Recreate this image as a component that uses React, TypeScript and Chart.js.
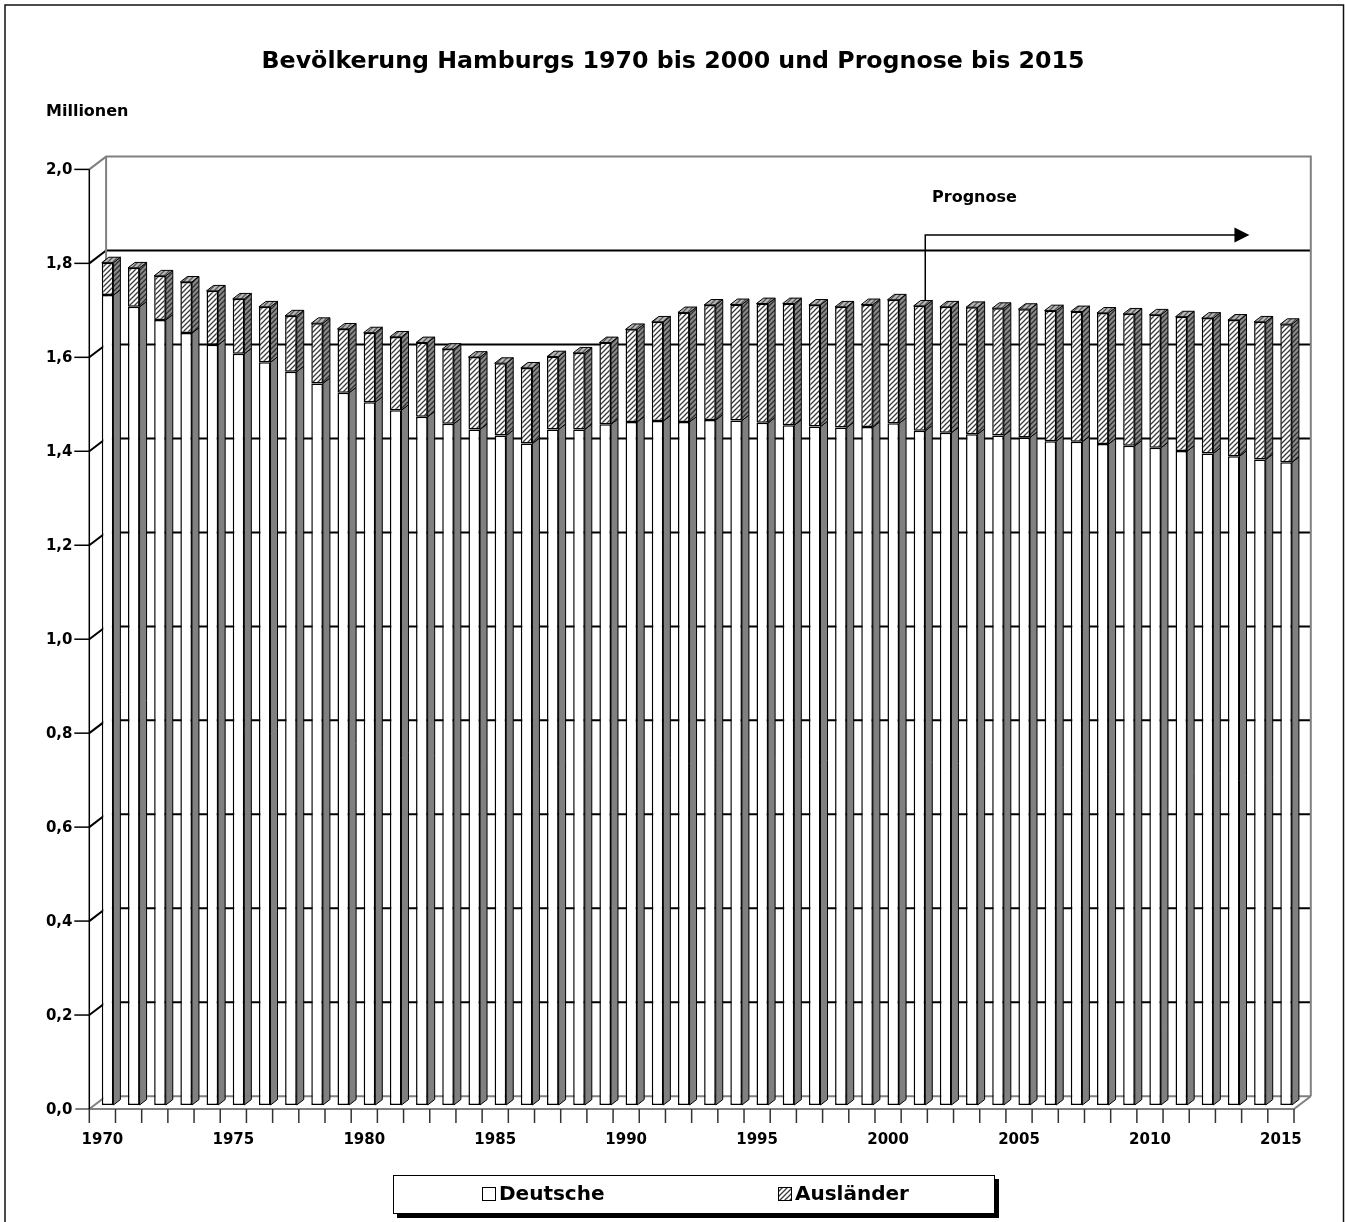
import { useEffect, useRef } from 'react';
import { Chart, registerables } from 'chart.js';

Chart.register(...registerables);

// Jahre (Kategorien)
const years = [
  '1970', '1971', '1972', '1973', '1974', '1975', '1976', '1977', '1978', '1979',
  '1980', '1981', '1982', '1983', '1984', '1985', '1986', '1987', '1988', '1989',
  '1990', '1991', '1992', '1993', '1994', '1995', '1996', '1997', '1998', '1999',
  '2000', '2001', '2002', '2003', '2004', '2005', '2006', '2007', '2008', '2009',
  '2010', '2011', '2012', '2013', '2014', '2015',
];

// Deutsche Bevölkerung in Millionen
const deutsche = [
  1.724, 1.699, 1.671, 1.643, 1.618, 1.599, 1.581, 1.561, 1.536, 1.516,
  1.496, 1.479, 1.465, 1.450, 1.438, 1.425, 1.408, 1.438, 1.438, 1.449,
  1.454, 1.456, 1.454, 1.458, 1.457, 1.452, 1.447, 1.444, 1.442, 1.443,
  1.451, 1.435, 1.431, 1.428, 1.425, 1.421, 1.413, 1.412, 1.407, 1.403,
  1.399, 1.392, 1.387, 1.381, 1.374, 1.368,
];

// Ausländische Bevölkerung in Millionen
const auslaender = [
  0.069, 0.083, 0.094, 0.109, 0.115, 0.117, 0.118, 0.119, 0.128, 0.136,
  0.148, 0.156, 0.158, 0.159, 0.154, 0.154, 0.161, 0.155, 0.163, 0.174,
  0.197, 0.211, 0.233, 0.245, 0.247, 0.254, 0.259, 0.259, 0.257, 0.261,
  0.263, 0.266, 0.268, 0.270, 0.271, 0.273, 0.278, 0.277, 0.279, 0.281,
  0.283, 0.286, 0.288, 0.290, 0.293, 0.294,
];

const seriesLabels = ['Deutsche', 'Ausländer'];
const Y_MAX = 2.0;
const Y_STEP = 0.2;

// Prognose-Pfeil: beginnt am ersten Prognosejahr, endet kurz vor 2015
const ARROW_FROM_INDEX = 31;
const ARROW_TO_INDEX = 43.6;
const ARROW_LEVEL = 1.852;
const PROGNOSE_LABEL_INDEX = 33.1;
const PROGNOSE_LABEL_LEVEL = 1.93;

const FONT = "'DejaVu Sans', 'Liberation Sans', sans-serif";

// Perspektive: Vorderkante, Rückwand und Säulentiefe relativ zur Säulenebene
const FRONT = { x: -5.2, y: 4 };
const BACK = { x: 11.6, y: -8.8 };
const BAR_DEPTH = { x: 7, y: -5.4 };

function makeHatch(ctx: CanvasRenderingContext2D, bg: string, fg: string, p = 5, lw = 1.3) {
  const c = document.createElement('canvas');
  c.width = p;
  c.height = p;
  const g = c.getContext('2d')!;
  g.fillStyle = bg;
  g.fillRect(0, 0, p, p);
  g.strokeStyle = fg;
  g.lineWidth = lw;
  g.beginPath();
  for (const k of [-p, 0, p]) {
    g.moveTo(k - 1, p + 1);
    g.lineTo(k + p + 1, -1);
  }
  g.stroke();
  return ctx.createPattern(c, 'repeat')!;
}

export default function App() {
  const canvasRef = useRef<HTMLCanvasElement | null>(null);

  useEffect(() => {
    const canvas = canvasRef.current!;
    const ctx0 = canvas.getContext('2d')!;
    const hatchFront = makeHatch(ctx0, '#ffffff', '#3a3a3a');
    const hatchSide = makeHatch(ctx0, '#8a8a8a', '#2e2e2e');
    const hatchTop = makeHatch(ctx0, '#b8b8b8', '#555555');

    const line = (ctx: CanvasRenderingContext2D, pts: number[][], color: string, w: number) => {
      ctx.beginPath();
      ctx.moveTo(pts[0][0], pts[0][1]);
      for (let i = 1; i < pts.length; i++) ctx.lineTo(pts[i][0], pts[i][1]);
      ctx.strokeStyle = color;
      ctx.lineWidth = w;
      ctx.stroke();
    };

    const poly = (ctx: CanvasRenderingContext2D, pts: number[][], fill: string | CanvasPattern) => {
      ctx.beginPath();
      ctx.moveTo(pts[0][0], pts[0][1]);
      for (let i = 1; i < pts.length; i++) ctx.lineTo(pts[i][0], pts[i][1]);
      ctx.closePath();
      ctx.fillStyle = fill;
      ctx.fill();
      ctx.strokeStyle = '#000';
      ctx.lineWidth = 1;
      ctx.stroke();
    };

    const depthPlugin = {
      id: 'depth3d',
      beforeDraw(chart: any) {
        const ctx = chart.ctx;
        ctx.save();
        ctx.fillStyle = '#fff';
        ctx.fillRect(0, 0, chart.width, chart.height);
        ctx.restore();
      },
      beforeDatasetsDraw(chart: any) {
        const ctx: CanvasRenderingContext2D = chart.ctx;
        const { left, right } = chart.chartArea;
        const ys = chart.scales.y;
        const xs = chart.scales.x;
        const yv = (v: number) => ys.getPixelForValue(v);
        const fL = left + FRONT.x;
        const fR = right + FRONT.x;
        const bL = left + BACK.x;
        const bR = right + BACK.x;
        const yTop = yv(Y_MAX);
        const y0 = yv(0);
        ctx.save();
        ctx.lineCap = 'butt';

        // Gitternetz auf Seiten- und Rückwand
        const values: number[] = ys.ticks.map((t: any) => t.value);
        for (const v of values) {
          if (v <= 0 || v >= Y_MAX) continue;
          const y = yv(v);
          line(ctx, [[fL, y + FRONT.y], [bL, y + BACK.y], [bR, y + BACK.y]], '#000', 2);
        }

        // Wandkanten und Boden
        const gray = '#808080';
        line(ctx, [[fL, yTop + FRONT.y], [bL, yTop + BACK.y], [bR, yTop + BACK.y], [bR, y0 + BACK.y]], gray, 2);
        line(ctx, [[bL, yTop + BACK.y], [bL, y0 + BACK.y]], gray, 2);
        line(ctx, [[fL, y0 + FRONT.y], [bL, y0 + BACK.y], [bR, y0 + BACK.y]], gray, 2);
        line(ctx, [[fL - 14, y0 + FRONT.y], [fR, y0 + FRONT.y], [bR, y0 + BACK.y]], gray, 2);

        // Vordere Größenachse mit Teilstrichen
        line(ctx, [[fL, yTop + FRONT.y], [fL, y0 + FRONT.y]], '#000', 1.5);
        for (const v of values) {
          if (v <= 0) continue;
          const y = yv(v) + FRONT.y;
          line(ctx, [[fL - 15, y], [fL, y]], '#000', 1.5);
        }

        // Teilstriche der Rubrikenachse
        const n = chart.data.labels.length;
        const cw = (xs.right - xs.left) / n;
        for (let k = 0; k <= n; k++) {
          const x = xs.left + FRONT.x + k * cw;
          line(ctx, [[x, y0 + FRONT.y], [x, y0 + FRONT.y + 14]], '#333', 1.5);
        }
        ctx.restore();
      },
      afterDatasetsDraw(chart: any) {
        const ctx: CanvasRenderingContext2D = chart.ctx;
        const metas = [chart.getDatasetMeta(0), chart.getDatasetMeta(1)];
        const n = chart.data.labels.length;
        const { x: dx, y: dy } = BAR_DEPTH;
        ctx.save();
        ctx.lineJoin = 'miter';
        for (let j = 0; j < n; j++) {
          for (let i = 0; i < metas.length; i++) {
            const el = metas[i].data[j];
            const p = el.getProps(['x', 'y', 'base', 'width'], true);
            const x0 = p.x - p.width / 2;
            const x1 = p.x + p.width / 2;
            const top = Math.min(p.y, p.base);
            const bot = Math.max(p.y, p.base);
            poly(ctx, [[x1, top], [x1 + dx, top + dy], [x1 + dx, bot + dy], [x1, bot]], i === 0 ? '#808080' : hatchSide);
            const isTop = i === metas.length - 1;
            if (isTop) {
              poly(ctx, [[x0, top], [x0 + dx, top + dy], [x1 + dx, top + dy], [x1, top]], hatchTop);
            }
          }
        }

        // Prognose-Pfeil
        const ys = chart.scales.y;
        const xs = chart.scales.x;
        const startEl = metas[1].data[ARROW_FROM_INDEX].getProps(['x', 'y', 'width'], true);
        const ax = startEl.x + startEl.width / 2;
        const ly = ys.getPixelForValue(ARROW_LEVEL);
        const tip = xs.getPixelForValue(ARROW_TO_INDEX);
        line(ctx, [[ax, startEl.y + dy], [ax, ly], [tip - 13, ly]], '#000', 1.5);
        ctx.beginPath();
        ctx.moveTo(tip - 15, ly - 7.5);
        ctx.lineTo(tip, ly);
        ctx.lineTo(tip - 15, ly + 7.5);
        ctx.closePath();
        ctx.fillStyle = '#000';
        ctx.fill();

        ctx.font = `bold 16px ${FONT}`;
        ctx.textAlign = 'center';
        ctx.textBaseline = 'middle';
        ctx.fillText('Prognose', xs.getPixelForValue(PROGNOSE_LABEL_INDEX), ys.getPixelForValue(PROGNOSE_LABEL_LEVEL));
        ctx.restore();
      },
      afterDraw(chart: any) {
        const ctx: CanvasRenderingContext2D = chart.ctx;
        ctx.save();
        ctx.fillStyle = '#000';

        // Titel
        ctx.font = `bold 23.7px ${FONT}`;
        ctx.textAlign = 'center';
        ctx.textBaseline = 'middle';
        ctx.fillText('Bevölkerung Hamburgs 1970 bis 2000 und Prognose bis 2015', 673, 62);

        // Einheit
        ctx.font = `bold 16px ${FONT}`;
        ctx.textAlign = 'left';
        ctx.textBaseline = 'alphabetic';
        ctx.fillText('Millionen', 46, 116);

        // Legende mit Schatten
        const lx = 393, ly = 1175, lw = 602, lh = 39;
        ctx.fillStyle = '#000';
        ctx.fillRect(lx + 4, ly + 4, lw, lh);
        ctx.fillStyle = '#fff';
        ctx.fillRect(lx, ly, lw, lh);
        ctx.strokeStyle = '#000';
        ctx.lineWidth = 1;
        ctx.strokeRect(lx + 0.5, ly + 0.5, lw - 1, lh - 1);

        const items = [
          { x: 482, fill: '#ffffff' as string | CanvasPattern, text: seriesLabels[0] },
          { x: 778, fill: hatchFront as string | CanvasPattern, text: seriesLabels[1] },
        ];
        ctx.font = `bold 20px ${FONT}`;
        ctx.textBaseline = 'middle';
        for (const it of items) {
          ctx.fillStyle = it.fill;
          ctx.fillRect(it.x, ly + 12, 14, 14);
          ctx.strokeStyle = '#000';
          ctx.lineWidth = 1;
          ctx.strokeRect(it.x + 0.5, ly + 12.5, 13, 13);
          ctx.fillStyle = '#000';
          ctx.fillText(it.text, it.x + 17, ly + 20);
        }

        // Rahmen
        ctx.strokeStyle = '#111';
        ctx.lineWidth = 1.5;
        ctx.strokeRect(5, 5, 1338.5, 1300);
        ctx.restore();
      },
    };

    const chart = new Chart(canvas, {
      type: 'bar',
      data: {
        labels: years,
        datasets: [
          {
            label: seriesLabels[0],
            data: deutsche,
            backgroundColor: '#ffffff',
            borderColor: '#000000',
            borderWidth: 1.5,
            borderSkipped: false,
            barPercentage: 0.443,
            categoryPercentage: 1,
          },
          {
            label: seriesLabels[1],
            data: auslaender,
            backgroundColor: hatchFront,
            borderColor: '#000000',
            borderWidth: 1.5,
            borderSkipped: false,
            barPercentage: 0.443,
            categoryPercentage: 1,
          },
        ],
      },
      options: {
        responsive: false,
        animation: false,
        events: [],
        layout: { padding: { left: 0, top: 165.4, right: 45.8, bottom: 57 } },
        plugins: {
          legend: { display: false },
          title: { display: false },
          tooltip: { enabled: false },
        },
        scales: {
          x: {
            stacked: true,
            grid: { display: false, drawTicks: false },
            border: { display: false },
            ticks: {
              autoSkip: false,
              maxRotation: 0,
              minRotation: 0,
              padding: 26,
              labelOffset: FRONT.x,
              color: '#000',
              font: { family: FONT, weight: 'bold', size: 15 },
              callback: (_v: any, i: number) => (Number(years[i]) % 5 === 0 ? years[i] : ''),
            },
            afterFit: (s: any) => {
              s.height = 60;
            },
          },
          y: {
            stacked: true,
            min: 0,
            max: Y_MAX,
            grid: { display: false, drawTicks: false },
            border: { display: false },
            ticks: {
              stepSize: Y_STEP,
              padding: 22,
              labelOffset: FRONT.y + 1,
              color: '#000',
              font: { family: FONT, weight: 'bold', size: 15 },
              callback: (v: any) => Number(v).toFixed(1).replace('.', ','),
            },
            afterFit: (s: any) => {
              s.width = 94.5;
            },
          },
        },
      },
      plugins: [depthPlugin],
    } as any);

    return () => chart.destroy();
  }, []);

  return (
    <div style={{ position: 'fixed', left: 0, top: 0, width: 1345, height: 1222, background: '#fff' }}>
      <canvas ref={canvasRef} width={1345} height={1222} style={{ display: 'block' }} />
    </div>
  );
}
